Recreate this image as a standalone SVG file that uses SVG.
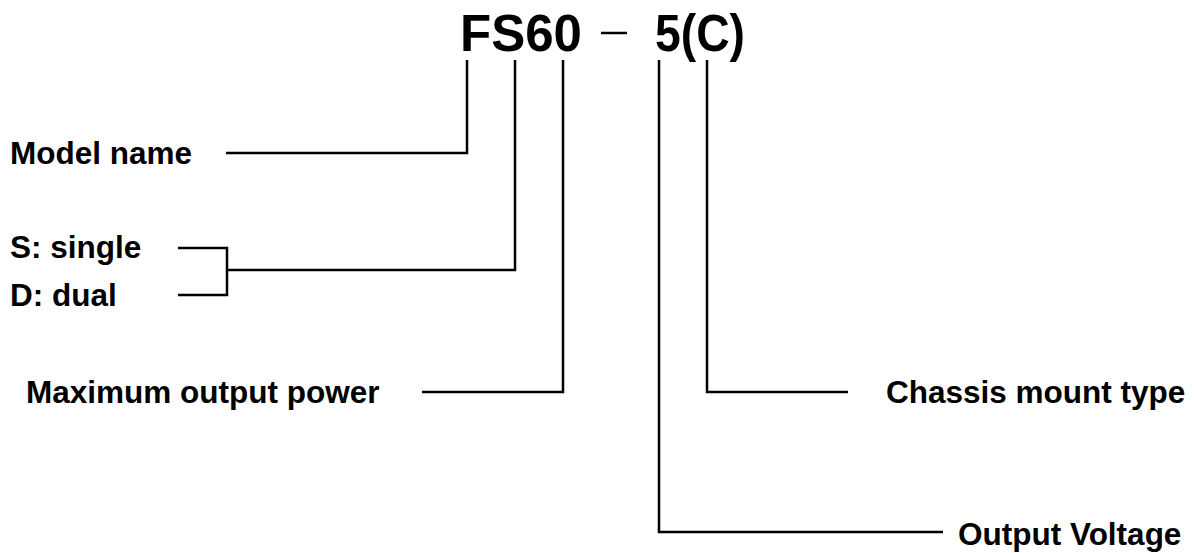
<svg xmlns="http://www.w3.org/2000/svg" width="1194" height="553" viewBox="0 0 1194 553">
<style>
.t{font-family:"Liberation Sans",Arial,sans-serif;font-weight:bold;fill:#000}
.lbl{font-size:31.5px}
.ttl{font-size:51px}
.c{fill:none;stroke:#000;stroke-width:2.5}
</style>
<rect width="1194" height="553" fill="#fff"/>
<g id="title">
<text class="t ttl" x="460" y="51">FS60</text>
<text class="t ttl" x="655" y="51" textLength="90" lengthAdjust="spacingAndGlyphs">5(C)</text>
<line x1="601" y1="33" x2="627" y2="33" stroke="#000" stroke-width="2.5"/>
</g>
<g id="model-name"><text class="t lbl" x="10" y="164">Model name</text></g>
<g id="single-dual">
<text class="t lbl" x="10" y="258">S: single</text>
<text class="t lbl" x="10" y="306">D: dual</text>
</g>
<g id="max-power"><text class="t lbl" x="26" y="403">Maximum output power</text></g>
<g id="chassis"><text class="t lbl" x="886" y="403">Chassis mount type</text></g>
<g id="output-voltage"><text class="t lbl" x="958" y="545">Output Voltage</text></g>
<g id="connectors">
<polyline class="c" points="226,153 467,153 467,60"/>
<polyline class="c" points="178,248 227,248 227,295 178,295"/>
<polyline class="c" points="227,270 515,270 515,60"/>
<polyline class="c" points="422,392 563,392 563,60"/>
<polyline class="c" points="848,392 707,392 707,60"/>
<polyline class="c" points="943,532 659,532 659,60"/>
</g>
</svg>
